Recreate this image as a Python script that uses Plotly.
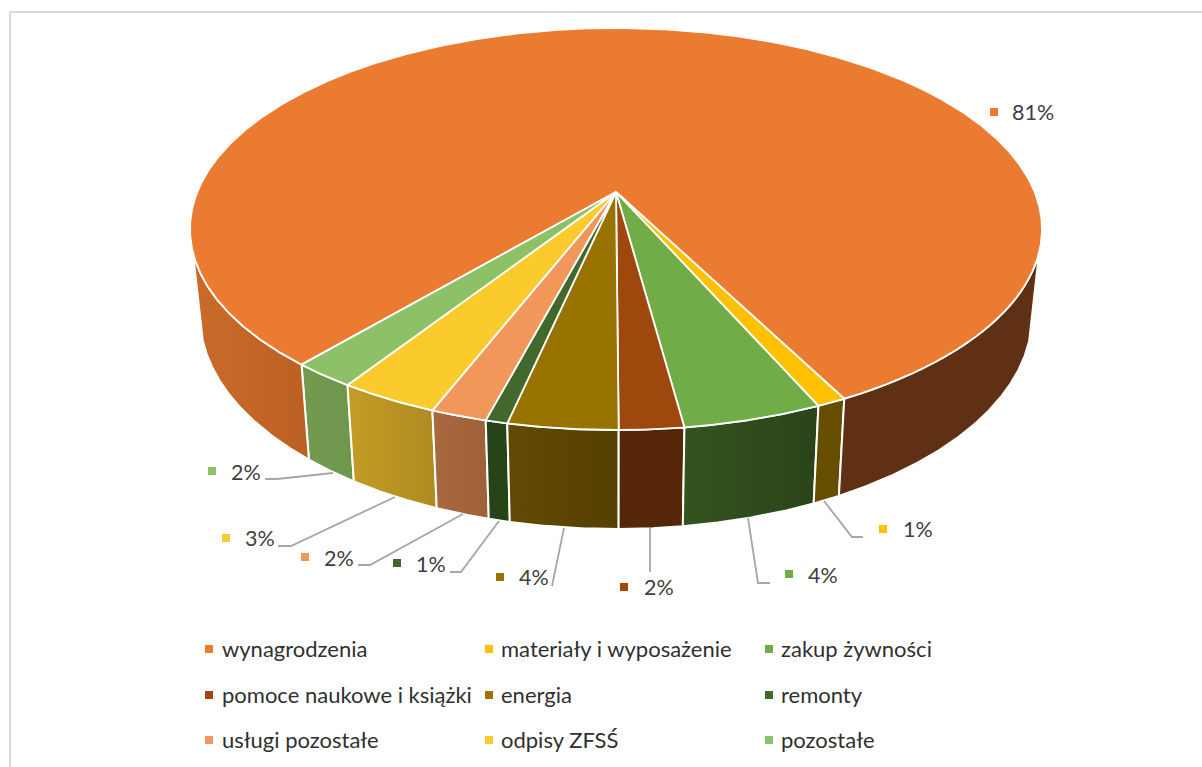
import numpy as np
import plotly.graph_objects as go

categories = ["wynagrodzenia", "materiały i wyposażenie", "zakup żywności",
              "pomoce naukowe i książki", "energia", "remonty",
              "usługi pozostałe", "odpisy ZFSŚ", "pozostałe"]
values = [81.3, 0.95, 4.45, 2.05, 3.5, 0.7, 1.8, 3.2, 2.05]

top_colors = ["#EB7B31", "#FFC000", "#70AD47", "#9E480E", "#997300", "#43682B",
              "#F1975A", "#FBCB2E", "#8CC168"]
wall_left = ["#C96B2A", "#664D00", "#35531F", "#552608", "#624A05", "#274419",
             "#A9693F", "#C39C25", "#739B50"]
wall_right = ["#BC6023", "#664D00", "#2A441A", "#552608", "#564000", "#274419",
              "#A06038", "#B08A20", "#6F964D"]
wall_far_right = "#5F3013"

# Projection of the pie disc on the page
START = -40.2
TOP = dict(cx=616, cy=229, a=426, b=201)
BOT = dict(cx=616, cy=316, a=416, b=213)
APEX = -0.184
V_MIN = 0.114


def disc(phi):
    p = np.radians(phi)
    x, y = np.sin(p), np.cos(p)
    w = 1 + y * APEX
    return x * np.sqrt(1 - APEX ** 2) / w, (y + APEX) / w


def place(u, v, e):
    return e["cx"] + e["a"] * u, e["cy"] + e["b"] * v


fig = go.Figure()
total = sum(values)
edges = START - 360 * np.cumsum([0] + values) / total

# side walls
for i in range(len(values) - 1, -1, -1):
    phi = np.linspace(edges[i], edges[i + 1], max(4, int(abs(edges[i + 1] - edges[i]) * 4)))
    u, v = disc(phi)
    idx = np.where(v >= V_MIN)[0]
    runs = np.split(idx, np.where(np.diff(idx) > 1)[0] + 1)
    for run in runs:
        if len(run) < 2:
            continue
        tx, ty = place(u[run], v[run], TOP)
        bx, by = place(u[run], v[run], BOT)
        px = np.r_[tx, bx[::-1], tx[0]]
        py = np.r_[ty, by[::-1], ty[0]]
        if i == 0 and u[run].mean() > 0:
            grad = dict(type="horizontal", colorscale=[[0, wall_far_right], [1, wall_far_right]])
        else:
            grad = dict(type="horizontal", colorscale=[[0, wall_left[i]], [1, wall_right[i]]])
        fig.add_trace(go.Scatter(x=px, y=py, mode="lines", fill="toself",
                                 fillgradient=grad, line=dict(color="white", width=2),
                                 hoverinfo="skip", showlegend=False))

# top faces
apex_x, apex_y = TOP["cx"], TOP["cy"] + TOP["b"] * APEX
for i in range(len(values)):
    phi = np.linspace(edges[i], edges[i + 1], max(4, int(abs(edges[i + 1] - edges[i]) * 4)))
    u, v = disc(phi)
    tx, ty = place(u, v, TOP)
    fig.add_trace(go.Scatter(x=np.r_[apex_x, tx, apex_x], y=np.r_[apex_y, ty, apex_y],
                             mode="lines", fill="toself", fillcolor=top_colors[i],
                             line=dict(color="white", width=1.8), name=categories[i],
                             hoverinfo="name", showlegend=False))

# leader lines
leaders = {
    1: ([863, 852, 824], [537, 537, 501]),
    2: ([770, 758, 748], [583, 583, 518]),
    3: ([650, 650], [572, 528]),
    4: ([552, 564], [586, 528]),
    5: ([450, 461, 499], [572, 572, 521]),
    6: ([358, 370, 463], [565, 565, 514]),
    7: ([278, 291, 395], [546, 546, 497]),
    8: ([265, 277, 333], [479, 479, 473]),
}
for k, (lx, ly) in leaders.items():
    fig.add_trace(go.Scatter(x=lx, y=ly, mode="lines", line=dict(color="#A6A6A6", width=1.8),
                             hoverinfo="skip", showlegend=False))

# data labels
label_marker_x = [994, 883, 789, 624, 500, 397, 305, 226, 212]
label_marker_y = [112, 529, 574, 587, 577, 563, 557, 538, 471]
label_text_x = [1012, 903, 808, 644, 519, 416, 324, 245, 231]
label_text_y = [115, 532, 578, 590, 580, 567, 561, 541, 475]
fig.add_trace(go.Scatter(x=label_marker_x, y=label_marker_y, mode="markers",
                         marker=dict(symbol="square", size=8, color=top_colors),
                         hoverinfo="skip", showlegend=False))
fig.add_trace(go.Scatter(x=label_text_x, y=label_text_y, mode="text",
                         text=[f"{round(val)}%" for val in values], textposition="middle right",
                         textfont=dict(family="Lato", size=21.5, color="#404040"),
                         hoverinfo="skip", showlegend=False))

# legend
col_marker = [209, 489, 769]
col_text = [222, 501, 781]
rows = [649, 695, 740]
text_rows = [651, 697, 742]
fig.add_trace(go.Scatter(x=[col_marker[i % 3] for i in range(9)], y=[rows[i // 3] for i in range(9)],
                         mode="markers", marker=dict(symbol="square", size=8, color=top_colors),
                         hoverinfo="skip", showlegend=False))
fig.add_trace(go.Scatter(x=[col_text[i % 3] for i in range(9)], y=[text_rows[i // 3] for i in range(9)],
                         mode="text", text=categories, textposition="middle right",
                         textfont=dict(family="Lato", size=22, color="#303030"),
                         hoverinfo="skip", showlegend=False))

fig.update_layout(width=1202, height=767, margin=dict(l=0, r=0, t=0, b=0),
                  paper_bgcolor="white", plot_bgcolor="white",
                  xaxis=dict(range=[0, 1202], visible=False, fixedrange=True),
                  yaxis=dict(range=[767, 0], visible=False, fixedrange=True),
                  shapes=[dict(type="line", x0=10, x1=10, y0=12, y1=767, line=dict(color="#D9D9D9", width=2)),
                          dict(type="line", x0=10, x1=1202, y0=12, y1=12, line=dict(color="#D9D9D9", width=2))])
fig.write_html("out.html", post_script="document.body.style.margin='0';",
               config=dict(displayModeBar=False))
